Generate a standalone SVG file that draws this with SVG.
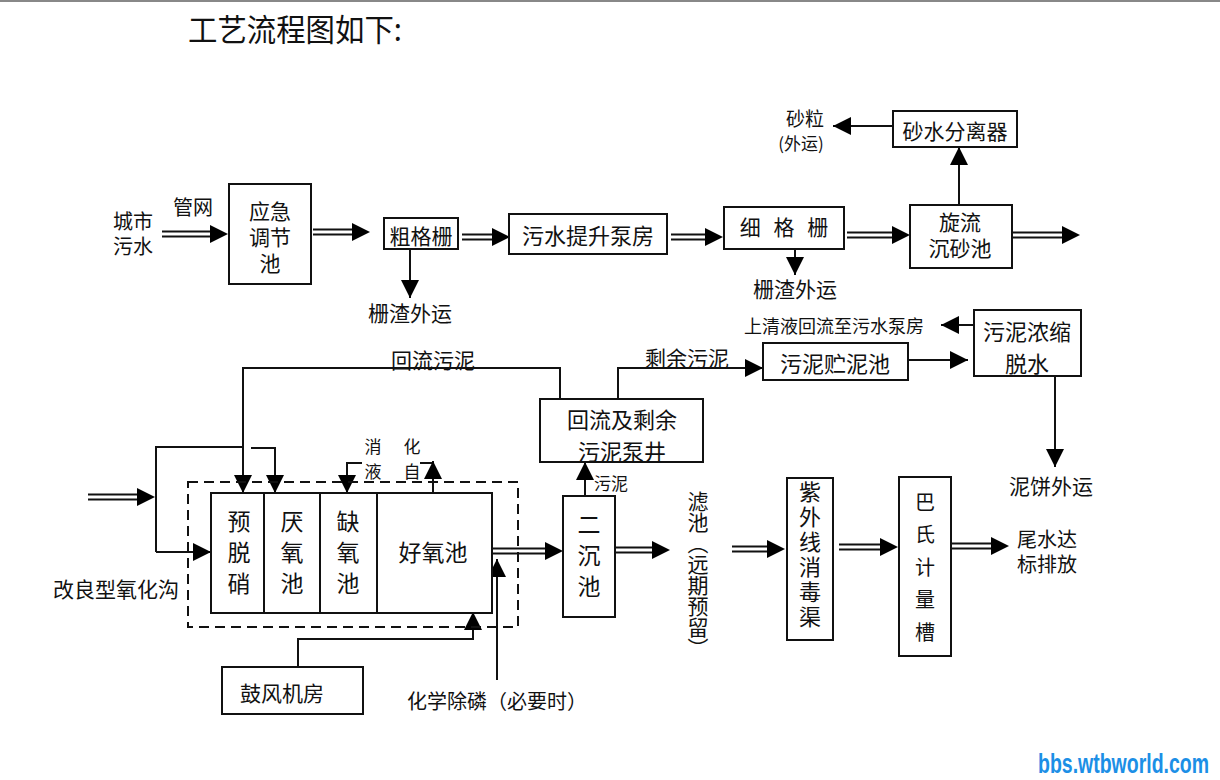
<svg xmlns="http://www.w3.org/2000/svg" width="1220" height="780" viewBox="0 0 1220 780">
<defs>
<marker id="ah" markerWidth="18" markerHeight="18" refX="18" refY="9" orient="auto" markerUnits="userSpaceOnUse"><path d="M0,0 L18,9 L0,18 z" fill="#000"/></marker>
<style>
text{font-family:"Noto Sans CJK SC","Noto Sans",sans-serif;fill:#111;text-anchor:middle;dominant-baseline:central}
.box{fill:#fff;stroke:#111;stroke-width:2}
.ln{fill:none;stroke:#111;stroke-width:2}
.dl{fill:none;stroke:#111;stroke-width:2}
.tip{fill:none;stroke:none}
.dash{fill:none;stroke:#111;stroke-width:2;stroke-dasharray:10,6}
.vt{writing-mode:vertical-rl;text-anchor:start}
.f22{font-size:22px}.f21{font-size:21px}.f20{font-size:20px}.f17{font-size:17px}.f23{font-size:23px}
</style>
</defs>
<rect x="0" y="0" width="1220" height="780" fill="#fff"/>
<line x1="0" y1="1" x2="1220" y2="1" stroke="#888" stroke-width="2"/>
<text x="188" y="41" style="text-anchor:start;dominant-baseline:alphabetic;font-size:31px" textLength="214" lengthAdjust="spacingAndGlyphs">工艺流程图如下:</text>

<g id="connectors">
<g id="dbl">
<path class="dl" d="M162,231.5 H220 M162,236.5 H220"/><path class="tip" d="M162,234 H228" marker-end="url(#ah)"/>
<path class="dl" d="M313,229.5 H362 M313,234.5 H362"/><path class="tip" d="M313,232 H370" marker-end="url(#ah)"/>
<path class="dl" d="M462,234.5 H502 M462,239.5 H502"/><path class="tip" d="M462,237 H510" marker-end="url(#ah)"/>
<path class="dl" d="M671,234.5 H715 M671,239.5 H715"/><path class="tip" d="M671,237 H723" marker-end="url(#ah)"/>
<path class="dl" d="M847,232.5 H902 M847,237.5 H902"/><path class="tip" d="M847,235 H910" marker-end="url(#ah)"/>
<path class="dl" d="M1013,232.5 H1072 M1013,237.5 H1072"/><path class="tip" d="M1013,235 H1080" marker-end="url(#ah)"/>
<path class="dl" d="M88,494.5 H147 M88,499.5 H147"/><path class="tip" d="M88,497 H155" marker-end="url(#ah)"/>
<path class="dl" d="M492,548.5 H555 M492,553.5 H555"/><path class="tip" d="M492,551 H563" marker-end="url(#ah)"/>
<path class="dl" d="M615,547.5 H662 M615,552.5 H662"/><path class="tip" d="M615,550 H670" marker-end="url(#ah)"/>
<path class="dl" d="M732,546.5 H777 M732,551.5 H777"/><path class="tip" d="M732,549 H785" marker-end="url(#ah)"/>
<path class="dl" d="M839,544.5 H890 M839,549.5 H890"/><path class="tip" d="M839,547 H898" marker-end="url(#ah)"/>
<path class="dl" d="M952,543.5 H1001 M952,548.5 H1001"/><path class="tip" d="M952,546 H1009" marker-end="url(#ah)"/>
</g>
<path class="ln" d="M410,249 V298" marker-end="url(#ah)"/>
<path class="ln" d="M795,249 V275" marker-end="url(#ah)"/>
<path class="ln" d="M959,205 V147" marker-end="url(#ah)"/>
<path class="ln" d="M893,126 H833" marker-end="url(#ah)"/>
<path class="ln" d="M974,325 H941" marker-end="url(#ah)"/>
<path class="ln" d="M908,360 H968" marker-end="url(#ah)"/>
<path class="ln" d="M1055,376 V467" marker-end="url(#ah)"/>
<path class="ln" d="M618,399 V368 H763" marker-end="url(#ah)"/>
<path class="ln" d="M560,399 V368 H243 V493" marker-end="url(#ah)"/>
<path class="ln" d="M585,496 V462" marker-end="url(#ah)"/>
<path class="ln" d="M156,552 V447 H243"/>
<path class="ln" d="M251,448 H275 V493" marker-end="url(#ah)"/>
<path class="ln" d="M156,552 H211" marker-end="url(#ah)"/>
<path class="ln" d="M362,463 H347 V493" marker-end="url(#ah)"/>
<path class="ln" d="M420,463 H433"/>
<path class="ln" d="M433,493 V461" marker-end="url(#ah)"/>
<path class="ln" d="M298,667 V639 H473 V612" marker-end="url(#ah)"/>
<path class="ln" d="M497,680 V559" marker-end="url(#ah)"/>
</g>

<g id="labels">
<text class="f20" x="133" y="220">城市<tspan x="133" dy="25">污水</tspan></text>
<text class="f20" x="193" y="206">管网</text>
<text class="f21" x="410" y="312">栅渣外运</text>
<text class="f21" x="795" y="288">栅渣外运</text>
<text x="805" y="117" style="font-size:19px">砂粒</text>
<text class="f17" x="801" y="142">(外运)</text>
<text x="834" y="325" style="font-size:18px">上清液回流至污水泵房</text>
<text class="f21" x="1051" y="485">泥饼外运</text>
<text class="f21" x="687" y="357">剩余污泥</text>
<text class="f21" x="433" y="359">回流污泥</text>
<text class="f17" x="611" y="482">污泥</text>
<text class="f17" x="373" y="445">消</text>
<text class="f17" x="412" y="445">化</text>
<text class="f17" x="373" y="470">液</text>
<text class="f17" x="412" y="470">自</text>
<text class="f21" x="116" y="588">改良型氧化沟</text>
<text class="f21 vt" x="698" y="491">滤池（远期预留）</text>
<text class="f20" x="1047" y="538">尾水达<tspan x="1047" dy="25">标排放</tspan></text>
<text class="f20" x="497" y="700">化学除磷（必要时）</text>
</g>

<g id="n-tiaojie"><rect class="box" x="229" y="184" width="82" height="100"/>
<text class="f21" x="270" y="210">应急<tspan x="270" dy="26">调节</tspan><tspan x="270" dy="26">池</tspan></text></g>
<g id="n-cugeshan"><rect class="box" x="384" y="218" width="74" height="31"/><text class="f21" x="421" y="235">粗格栅</text></g>
<g id="n-tisheng"><rect class="box" x="509" y="214" width="158" height="40"/><text class="f22" x="588" y="234">污水提升泵房</text></g>
<g id="n-xigeshan"><rect class="box" x="724" y="207" width="120" height="42"/><text class="f21" x="786" y="226" style="letter-spacing:4px">细 格 栅</text></g>
<g id="n-xuanliu"><rect class="box" x="910" y="205" width="102" height="63"/><text class="f21" x="960" y="221">旋流<tspan x="960" dy="26">沉砂池</tspan></text></g>
<g id="n-shashui"><rect class="box" x="893" y="111" width="124" height="36"/><text class="f21" x="955" y="130">砂水分离器</text></g>
<g id="n-nongsuo"><rect class="box" x="974" y="310" width="107" height="66"/><text class="f22" x="1027" y="330">污泥浓缩<tspan x="1027" dy="32">脱水</tspan></text></g>
<g id="n-zhuni"><rect class="box" x="763" y="343" width="145" height="37"/><text class="f22" x="835" y="362">污泥贮泥池</text></g>
<g id="n-bengjing"><rect class="box" x="540" y="399" width="163" height="63"/><text class="f22" x="622" y="418">回流及剩余<tspan x="622" dy="32">污泥泵井</tspan></text></g>
<g id="n-yanghuagou">
<rect class="dash" x="188" y="482" width="330" height="145"/>
<rect class="box" x="211" y="493" width="281" height="120"/>
<line class="ln" x1="264" y1="493" x2="264" y2="613"/>
<line class="ln" x1="320" y1="493" x2="320" y2="613"/>
<line class="ln" x1="377" y1="493" x2="377" y2="613"/>
<text class="f23 vt" x="239" y="510" style="letter-spacing:8px">预脱硝</text>
<text class="f23 vt" x="292" y="510" style="letter-spacing:8px">厌氧池</text>
<text class="f23 vt" x="348" y="510" style="letter-spacing:8px">缺氧池</text>
<text class="f23" x="433" y="551">好氧池</text>
</g>
<g id="n-erchen"><rect class="box" x="563" y="496" width="52" height="121"/><text class="f23 vt" x="589" y="513" style="letter-spacing:8px">二沉池</text></g>
<g id="n-ziwai"><rect class="box" x="787" y="478" width="46" height="162"/>
<text class="f22 vt" x="810" y="481" style="letter-spacing:3px">紫外线消毒渠</text></g>
<g id="n-bashi"><rect class="box" x="899" y="477" width="52" height="179"/>
<text class="f20 vt" x="925" y="492" style="letter-spacing:12.5px">巴氏计量槽</text></g>
<g id="n-gufeng"><rect class="box" x="222" y="667" width="141" height="47"/><text class="f21" x="282" y="692">鼓风机房</text></g>

<text transform="translate(1038,773) scale(1,1.45)" x="0" y="0" style="text-anchor:start;dominant-baseline:alphabetic;font-family:'Liberation Sans',sans-serif;font-weight:bold;font-size:19.5px;fill:#1c8fe6">bbs.wtbworld.com</text>
</svg>
